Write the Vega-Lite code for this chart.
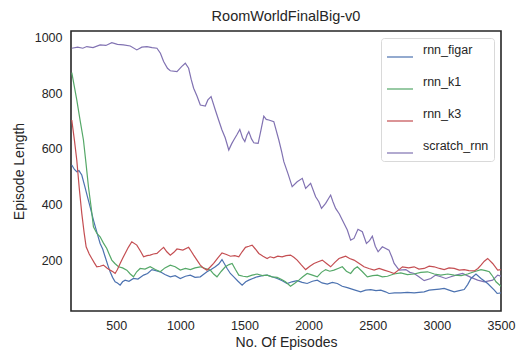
{
  "$schema": "https://vega.github.io/schema/vega-lite/v6.json",
  "width": 430,
  "height": 280,
  "autosize": "none",
  "padding": {"left": 71, "top": 31, "right": 19, "bottom": 40},
  "background": "white",
  "title": {"text": "RoomWorldFinalBig-v0", "font": "Liberation Sans", "fontSize": 14.5, "fontWeight": "normal", "color": "#262626", "offset": 7},
  "config": {
    "view": {"stroke": "#262626", "strokeWidth": 1.6},
    "axis": {"grid": false, "ticks": false, "domain": false, "labelFont": "Liberation Sans", "labelFontSize": 12.5, "labelColor": "#262626", "titleFont": "Liberation Sans", "titleFontSize": 14, "titleFontWeight": "normal", "titleColor": "#262626"}
  },
  "data": {"values": [
    {"s":"scratch_rnn","x":154,"y":962},{"s":"scratch_rnn","x":200,"y":966},{"s":"scratch_rnn","x":240,"y":962},{"s":"scratch_rnn","x":271,"y":968},{"s":"scratch_rnn","x":320,"y":964},{"s":"scratch_rnn","x":375,"y":974},{"s":"scratch_rnn","x":420,"y":972},{"s":"scratch_rnn","x":466,"y":982},{"s":"scratch_rnn","x":510,"y":976},{"s":"scratch_rnn","x":557,"y":974},{"s":"scratch_rnn","x":610,"y":970},{"s":"scratch_rnn","x":661,"y":956},{"s":"scratch_rnn","x":700,"y":966},{"s":"scratch_rnn","x":740,"y":968},{"s":"scratch_rnn","x":780,"y":964},{"s":"scratch_rnn","x":818,"y":962},{"s":"scratch_rnn","x":845,"y":944},{"s":"scratch_rnn","x":870,"y":914},{"s":"scratch_rnn","x":900,"y":890},{"s":"scratch_rnn","x":922,"y":881},{"s":"scratch_rnn","x":974,"y":878},{"s":"scratch_rnn","x":1010,"y":896},{"s":"scratch_rnn","x":1039,"y":908},{"s":"scratch_rnn","x":1065,"y":890},{"s":"scratch_rnn","x":1085,"y":850},{"s":"scratch_rnn","x":1104,"y":818},{"s":"scratch_rnn","x":1130,"y":790},{"s":"scratch_rnn","x":1156,"y":758},{"s":"scratch_rnn","x":1195,"y":754},{"s":"scratch_rnn","x":1215,"y":776},{"s":"scratch_rnn","x":1240,"y":788},{"s":"scratch_rnn","x":1273,"y":740},{"s":"scratch_rnn","x":1300,"y":702},{"s":"scratch_rnn","x":1325,"y":668},{"s":"scratch_rnn","x":1350,"y":640},{"s":"scratch_rnn","x":1378,"y":596},{"s":"scratch_rnn","x":1400,"y":618},{"s":"scratch_rnn","x":1417,"y":632},{"s":"scratch_rnn","x":1440,"y":650},{"s":"scratch_rnn","x":1464,"y":670},{"s":"scratch_rnn","x":1485,"y":640},{"s":"scratch_rnn","x":1503,"y":626},{"s":"scratch_rnn","x":1520,"y":650},{"s":"scratch_rnn","x":1534,"y":662},{"s":"scratch_rnn","x":1555,"y":636},{"s":"scratch_rnn","x":1573,"y":622},{"s":"scratch_rnn","x":1607,"y":620},{"s":"scratch_rnn","x":1630,"y":670},{"s":"scratch_rnn","x":1651,"y":718},{"s":"scratch_rnn","x":1670,"y":706},{"s":"scratch_rnn","x":1690,"y":704},{"s":"scratch_rnn","x":1729,"y":698},{"s":"scratch_rnn","x":1768,"y":632},{"s":"scratch_rnn","x":1790,"y":590},{"s":"scratch_rnn","x":1807,"y":554},{"s":"scratch_rnn","x":1840,"y":510},{"s":"scratch_rnn","x":1872,"y":464},{"s":"scratch_rnn","x":1911,"y":482},{"s":"scratch_rnn","x":1951,"y":494},{"s":"scratch_rnn","x":1977,"y":458},{"s":"scratch_rnn","x":2016,"y":476},{"s":"scratch_rnn","x":2055,"y":428},{"s":"scratch_rnn","x":2080,"y":410},{"s":"scratch_rnn","x":2101,"y":386},{"s":"scratch_rnn","x":2133,"y":404},{"s":"scratch_rnn","x":2172,"y":434},{"s":"scratch_rnn","x":2190,"y":410},{"s":"scratch_rnn","x":2211,"y":386},{"s":"scratch_rnn","x":2240,"y":366},{"s":"scratch_rnn","x":2263,"y":344},{"s":"scratch_rnn","x":2302,"y":308},{"s":"scratch_rnn","x":2328,"y":272},{"s":"scratch_rnn","x":2354,"y":278},{"s":"scratch_rnn","x":2385,"y":311},{"s":"scratch_rnn","x":2419,"y":302},{"s":"scratch_rnn","x":2451,"y":260},{"s":"scratch_rnn","x":2475,"y":270},{"s":"scratch_rnn","x":2497,"y":286},{"s":"scratch_rnn","x":2520,"y":250},{"s":"scratch_rnn","x":2542,"y":230},{"s":"scratch_rnn","x":2575,"y":248},{"s":"scratch_rnn","x":2627,"y":236},{"s":"scratch_rnn","x":2650,"y":210},{"s":"scratch_rnn","x":2667,"y":188},{"s":"scratch_rnn","x":2706,"y":164},{"s":"scratch_rnn","x":2758,"y":166},{"s":"scratch_rnn","x":2790,"y":156},{"s":"scratch_rnn","x":2823,"y":152},{"s":"scratch_rnn","x":2860,"y":140},{"s":"scratch_rnn","x":2901,"y":126},{"s":"scratch_rnn","x":2953,"y":134},{"s":"scratch_rnn","x":2990,"y":146},{"s":"scratch_rnn","x":3031,"y":140},{"s":"scratch_rnn","x":3070,"y":134},{"s":"scratch_rnn","x":3109,"y":140},{"s":"scratch_rnn","x":3150,"y":146},{"s":"scratch_rnn","x":3200,"y":152},{"s":"scratch_rnn","x":3266,"y":138},{"s":"scratch_rnn","x":3318,"y":128},{"s":"scratch_rnn","x":3370,"y":122},{"s":"scratch_rnn","x":3435,"y":128},{"s":"scratch_rnn","x":3474,"y":146},{"s":"scratch_rnn","x":3500,"y":142},

    {"s":"rnn_figar","x":154,"y":542},{"s":"rnn_figar","x":175,"y":526},{"s":"rnn_figar","x":193,"y":518},{"s":"rnn_figar","x":210,"y":522},{"s":"rnn_figar","x":232,"y":506},{"s":"rnn_figar","x":255,"y":466},{"s":"rnn_figar","x":276,"y":428},{"s":"rnn_figar","x":300,"y":386},{"s":"rnn_figar","x":323,"y":344},{"s":"rnn_figar","x":350,"y":300},{"s":"rnn_figar","x":375,"y":260},{"s":"rnn_figar","x":395,"y":240},{"s":"rnn_figar","x":414,"y":212},{"s":"rnn_figar","x":435,"y":182},{"s":"rnn_figar","x":453,"y":158},{"s":"rnn_figar","x":472,"y":138},{"s":"rnn_figar","x":492,"y":122},{"s":"rnn_figar","x":510,"y":118},{"s":"rnn_figar","x":531,"y":110},{"s":"rnn_figar","x":550,"y":122},{"s":"rnn_figar","x":570,"y":128},{"s":"rnn_figar","x":600,"y":124},{"s":"rnn_figar","x":635,"y":134},{"s":"rnn_figar","x":670,"y":132},{"s":"rnn_figar","x":714,"y":146},{"s":"rnn_figar","x":745,"y":152},{"s":"rnn_figar","x":779,"y":166},{"s":"rnn_figar","x":810,"y":162},{"s":"rnn_figar","x":844,"y":158},{"s":"rnn_figar","x":880,"y":148},{"s":"rnn_figar","x":922,"y":140},{"s":"rnn_figar","x":960,"y":144},{"s":"rnn_figar","x":1000,"y":134},{"s":"rnn_figar","x":1040,"y":142},{"s":"rnn_figar","x":1078,"y":146},{"s":"rnn_figar","x":1115,"y":138},{"s":"rnn_figar","x":1156,"y":140},{"s":"rnn_figar","x":1185,"y":150},{"s":"rnn_figar","x":1208,"y":158},{"s":"rnn_figar","x":1240,"y":166},{"s":"rnn_figar","x":1273,"y":176},{"s":"rnn_figar","x":1300,"y":186},{"s":"rnn_figar","x":1325,"y":202},{"s":"rnn_figar","x":1345,"y":186},{"s":"rnn_figar","x":1365,"y":170},{"s":"rnn_figar","x":1390,"y":152},{"s":"rnn_figar","x":1417,"y":140},{"s":"rnn_figar","x":1450,"y":124},{"s":"rnn_figar","x":1482,"y":110},{"s":"rnn_figar","x":1510,"y":122},{"s":"rnn_figar","x":1534,"y":128},{"s":"rnn_figar","x":1565,"y":134},{"s":"rnn_figar","x":1599,"y":140},{"s":"rnn_figar","x":1640,"y":144},{"s":"rnn_figar","x":1677,"y":146},{"s":"rnn_figar","x":1715,"y":140},{"s":"rnn_figar","x":1755,"y":134},{"s":"rnn_figar","x":1795,"y":126},{"s":"rnn_figar","x":1833,"y":116},{"s":"rnn_figar","x":1870,"y":122},{"s":"rnn_figar","x":1911,"y":126},{"s":"rnn_figar","x":1950,"y":120},{"s":"rnn_figar","x":1989,"y":116},{"s":"rnn_figar","x":2030,"y":124},{"s":"rnn_figar","x":2068,"y":128},{"s":"rnn_figar","x":2105,"y":118},{"s":"rnn_figar","x":2146,"y":114},{"s":"rnn_figar","x":2185,"y":120},{"s":"rnn_figar","x":2224,"y":116},{"s":"rnn_figar","x":2262,"y":106},{"s":"rnn_figar","x":2302,"y":101},{"s":"rnn_figar","x":2350,"y":94},{"s":"rnn_figar","x":2406,"y":86},{"s":"rnn_figar","x":2445,"y":92},{"s":"rnn_figar","x":2485,"y":94},{"s":"rnn_figar","x":2525,"y":90},{"s":"rnn_figar","x":2563,"y":92},{"s":"rnn_figar","x":2600,"y":86},{"s":"rnn_figar","x":2627,"y":80},{"s":"rnn_figar","x":2670,"y":82},{"s":"rnn_figar","x":2719,"y":82},{"s":"rnn_figar","x":2770,"y":84},{"s":"rnn_figar","x":2823,"y":82},{"s":"rnn_figar","x":2860,"y":84},{"s":"rnn_figar","x":2901,"y":86},{"s":"rnn_figar","x":2940,"y":92},{"s":"rnn_figar","x":2979,"y":94},{"s":"rnn_figar","x":3020,"y":96},{"s":"rnn_figar","x":3057,"y":98},{"s":"rnn_figar","x":3095,"y":92},{"s":"rnn_figar","x":3135,"y":86},{"s":"rnn_figar","x":3175,"y":90},{"s":"rnn_figar","x":3213,"y":94},{"s":"rnn_figar","x":3240,"y":112},{"s":"rnn_figar","x":3266,"y":134},{"s":"rnn_figar","x":3305,"y":150},{"s":"rnn_figar","x":3344,"y":134},{"s":"rnn_figar","x":3396,"y":116},{"s":"rnn_figar","x":3448,"y":92},{"s":"rnn_figar","x":3470,"y":80},{"s":"rnn_figar","x":3500,"y":82},

    {"s":"rnn_k1","x":154,"y":874},{"s":"rnn_k1","x":193,"y":776},{"s":"rnn_k1","x":220,"y":700},{"s":"rnn_k1","x":245,"y":632},{"s":"rnn_k1","x":265,"y":548},{"s":"rnn_k1","x":284,"y":464},{"s":"rnn_k1","x":305,"y":390},{"s":"rnn_k1","x":323,"y":320},{"s":"rnn_k1","x":350,"y":296},{"s":"rnn_k1","x":375,"y":284},{"s":"rnn_k1","x":400,"y":262},{"s":"rnn_k1","x":427,"y":242},{"s":"rnn_k1","x":445,"y":222},{"s":"rnn_k1","x":466,"y":200},{"s":"rnn_k1","x":490,"y":188},{"s":"rnn_k1","x":518,"y":176},{"s":"rnn_k1","x":550,"y":172},{"s":"rnn_k1","x":583,"y":164},{"s":"rnn_k1","x":610,"y":150},{"s":"rnn_k1","x":635,"y":140},{"s":"rnn_k1","x":660,"y":158},{"s":"rnn_k1","x":687,"y":170},{"s":"rnn_k1","x":725,"y":168},{"s":"rnn_k1","x":765,"y":176},{"s":"rnn_k1","x":805,"y":166},{"s":"rnn_k1","x":844,"y":158},{"s":"rnn_k1","x":880,"y":172},{"s":"rnn_k1","x":922,"y":182},{"s":"rnn_k1","x":960,"y":176},{"s":"rnn_k1","x":1000,"y":164},{"s":"rnn_k1","x":1040,"y":170},{"s":"rnn_k1","x":1078,"y":166},{"s":"rnn_k1","x":1115,"y":172},{"s":"rnn_k1","x":1156,"y":176},{"s":"rnn_k1","x":1195,"y":170},{"s":"rnn_k1","x":1234,"y":164},{"s":"rnn_k1","x":1260,"y":150},{"s":"rnn_k1","x":1286,"y":140},{"s":"rnn_k1","x":1320,"y":160},{"s":"rnn_k1","x":1351,"y":176},{"s":"rnn_k1","x":1380,"y":184},{"s":"rnn_k1","x":1404,"y":188},{"s":"rnn_k1","x":1430,"y":166},{"s":"rnn_k1","x":1456,"y":146},{"s":"rnn_k1","x":1490,"y":142},{"s":"rnn_k1","x":1521,"y":140},{"s":"rnn_k1","x":1560,"y":146},{"s":"rnn_k1","x":1599,"y":150},{"s":"rnn_k1","x":1640,"y":144},{"s":"rnn_k1","x":1677,"y":146},{"s":"rnn_k1","x":1715,"y":140},{"s":"rnn_k1","x":1755,"y":138},{"s":"rnn_k1","x":1790,"y":130},{"s":"rnn_k1","x":1820,"y":122},{"s":"rnn_k1","x":1859,"y":106},{"s":"rnn_k1","x":1890,"y":116},{"s":"rnn_k1","x":1924,"y":128},{"s":"rnn_k1","x":1955,"y":140},{"s":"rnn_k1","x":1989,"y":152},{"s":"rnn_k1","x":2030,"y":146},{"s":"rnn_k1","x":2068,"y":140},{"s":"rnn_k1","x":2100,"y":156},{"s":"rnn_k1","x":2133,"y":166},{"s":"rnn_k1","x":2165,"y":160},{"s":"rnn_k1","x":2198,"y":164},{"s":"rnn_k1","x":2230,"y":170},{"s":"rnn_k1","x":2263,"y":176},{"s":"rnn_k1","x":2295,"y":160},{"s":"rnn_k1","x":2328,"y":152},{"s":"rnn_k1","x":2355,"y":168},{"s":"rnn_k1","x":2380,"y":176},{"s":"rnn_k1","x":2420,"y":158},{"s":"rnn_k1","x":2458,"y":140},{"s":"rnn_k1","x":2500,"y":144},{"s":"rnn_k1","x":2537,"y":146},{"s":"rnn_k1","x":2575,"y":140},{"s":"rnn_k1","x":2615,"y":142},{"s":"rnn_k1","x":2665,"y":150},{"s":"rnn_k1","x":2719,"y":154},{"s":"rnn_k1","x":2770,"y":148},{"s":"rnn_k1","x":2823,"y":150},{"s":"rnn_k1","x":2875,"y":156},{"s":"rnn_k1","x":2927,"y":158},{"s":"rnn_k1","x":2980,"y":150},{"s":"rnn_k1","x":3031,"y":146},{"s":"rnn_k1","x":3085,"y":150},{"s":"rnn_k1","x":3135,"y":146},{"s":"rnn_k1","x":3190,"y":144},{"s":"rnn_k1","x":3240,"y":150},{"s":"rnn_k1","x":3290,"y":158},{"s":"rnn_k1","x":3344,"y":166},{"s":"rnn_k1","x":3380,"y":162},{"s":"rnn_k1","x":3409,"y":158},{"s":"rnn_k1","x":3435,"y":142},{"s":"rnn_k1","x":3461,"y":122},{"s":"rnn_k1","x":3500,"y":106},

    {"s":"rnn_k3","x":154,"y":704},{"s":"rnn_k3","x":175,"y":630},{"s":"rnn_k3","x":193,"y":560},{"s":"rnn_k3","x":212,"y":460},{"s":"rnn_k3","x":232,"y":368},{"s":"rnn_k3","x":250,"y":300},{"s":"rnn_k3","x":266,"y":248},{"s":"rnn_k3","x":290,"y":222},{"s":"rnn_k3","x":310,"y":206},{"s":"rnn_k3","x":330,"y":190},{"s":"rnn_k3","x":349,"y":176},{"s":"rnn_k3","x":375,"y":178},{"s":"rnn_k3","x":401,"y":182},{"s":"rnn_k3","x":428,"y":172},{"s":"rnn_k3","x":453,"y":164},{"s":"rnn_k3","x":475,"y":158},{"s":"rnn_k3","x":492,"y":152},{"s":"rnn_k3","x":510,"y":166},{"s":"rnn_k3","x":531,"y":188},{"s":"rnn_k3","x":550,"y":206},{"s":"rnn_k3","x":570,"y":224},{"s":"rnn_k3","x":595,"y":246},{"s":"rnn_k3","x":622,"y":266},{"s":"rnn_k3","x":661,"y":254},{"s":"rnn_k3","x":690,"y":232},{"s":"rnn_k3","x":714,"y":212},{"s":"rnn_k3","x":740,"y":216},{"s":"rnn_k3","x":765,"y":218},{"s":"rnn_k3","x":790,"y":222},{"s":"rnn_k3","x":818,"y":224},{"s":"rnn_k3","x":845,"y":236},{"s":"rnn_k3","x":870,"y":246},{"s":"rnn_k3","x":895,"y":230},{"s":"rnn_k3","x":922,"y":218},{"s":"rnn_k3","x":950,"y":228},{"s":"rnn_k3","x":974,"y":240},{"s":"rnn_k3","x":1020,"y":236},{"s":"rnn_k3","x":1065,"y":246},{"s":"rnn_k3","x":1085,"y":232},{"s":"rnn_k3","x":1104,"y":218},{"s":"rnn_k3","x":1130,"y":200},{"s":"rnn_k3","x":1156,"y":182},{"s":"rnn_k3","x":1180,"y":172},{"s":"rnn_k3","x":1208,"y":164},{"s":"rnn_k3","x":1235,"y":176},{"s":"rnn_k3","x":1260,"y":188},{"s":"rnn_k3","x":1290,"y":206},{"s":"rnn_k3","x":1325,"y":226},{"s":"rnn_k3","x":1360,"y":220},{"s":"rnn_k3","x":1391,"y":214},{"s":"rnn_k3","x":1425,"y":216},{"s":"rnn_k3","x":1456,"y":212},{"s":"rnn_k3","x":1482,"y":230},{"s":"rnn_k3","x":1508,"y":246},{"s":"rnn_k3","x":1535,"y":250},{"s":"rnn_k3","x":1560,"y":254},{"s":"rnn_k3","x":1585,"y":240},{"s":"rnn_k3","x":1612,"y":224},{"s":"rnn_k3","x":1645,"y":214},{"s":"rnn_k3","x":1677,"y":206},{"s":"rnn_k3","x":1700,"y":212},{"s":"rnn_k3","x":1729,"y":208},{"s":"rnn_k3","x":1760,"y":214},{"s":"rnn_k3","x":1794,"y":212},{"s":"rnn_k3","x":1825,"y":216},{"s":"rnn_k3","x":1859,"y":218},{"s":"rnn_k3","x":1885,"y":210},{"s":"rnn_k3","x":1911,"y":200},{"s":"rnn_k3","x":1945,"y":182},{"s":"rnn_k3","x":1977,"y":166},{"s":"rnn_k3","x":2010,"y":178},{"s":"rnn_k3","x":2042,"y":188},{"s":"rnn_k3","x":2075,"y":194},{"s":"rnn_k3","x":2107,"y":200},{"s":"rnn_k3","x":2140,"y":188},{"s":"rnn_k3","x":2172,"y":176},{"s":"rnn_k3","x":2205,"y":192},{"s":"rnn_k3","x":2237,"y":206},{"s":"rnn_k3","x":2262,"y":210},{"s":"rnn_k3","x":2289,"y":214},{"s":"rnn_k3","x":2320,"y":206},{"s":"rnn_k3","x":2354,"y":200},{"s":"rnn_k3","x":2395,"y":188},{"s":"rnn_k3","x":2432,"y":176},{"s":"rnn_k3","x":2470,"y":170},{"s":"rnn_k3","x":2511,"y":164},{"s":"rnn_k3","x":2550,"y":170},{"s":"rnn_k3","x":2589,"y":164},{"s":"rnn_k3","x":2630,"y":158},{"s":"rnn_k3","x":2667,"y":152},{"s":"rnn_k3","x":2700,"y":164},{"s":"rnn_k3","x":2732,"y":176},{"s":"rnn_k3","x":2780,"y":172},{"s":"rnn_k3","x":2823,"y":176},{"s":"rnn_k3","x":2860,"y":168},{"s":"rnn_k3","x":2901,"y":170},{"s":"rnn_k3","x":2940,"y":178},{"s":"rnn_k3","x":2979,"y":176},{"s":"rnn_k3","x":3020,"y":170},{"s":"rnn_k3","x":3057,"y":166},{"s":"rnn_k3","x":3095,"y":172},{"s":"rnn_k3","x":3135,"y":170},{"s":"rnn_k3","x":3175,"y":164},{"s":"rnn_k3","x":3213,"y":166},{"s":"rnn_k3","x":3250,"y":162},{"s":"rnn_k3","x":3292,"y":161},{"s":"rnn_k3","x":3320,"y":170},{"s":"rnn_k3","x":3344,"y":182},{"s":"rnn_k3","x":3370,"y":196},{"s":"rnn_k3","x":3396,"y":206},{"s":"rnn_k3","x":3435,"y":188},{"s":"rnn_k3","x":3474,"y":164},{"s":"rnn_k3","x":3500,"y":166}
  ]},
  "mark": {"type": "line", "strokeWidth": 1.2, "clip": true},
  "encoding": {
    "x": {"field": "x", "type": "quantitative", "title": "No. Of Episodes", "scale": {"domain": [148, 3500], "nice": false, "zero": false}, "axis": {"values": [500, 1000, 1500, 2000, 2500, 3000, 3500], "format": "d", "labelPadding": 8, "titlePadding": 4, "labelFlush": false}},
    "y": {"field": "y", "type": "quantitative", "title": "Episode Length", "scale": {"domain": [17, 1024], "nice": false, "zero": false}, "axis": {"values": [200, 400, 600, 800, 1000], "format": "d", "labelPadding": 9, "titlePadding": 8}},
    "color": {"field": "s", "type": "nominal", "title": null,
      "scale": {"domain": ["rnn_figar", "rnn_k1", "rnn_k3", "scratch_rnn"], "range": ["#4C72B0", "#55A868", "#C44E52", "#8172B2"]},
      "legend": {"orient": "top-right", "offset": 7, "symbolType": "stroke", "symbolSize": 676, "symbolStrokeWidth": 1.5, "symbolOpacity": 0.8, "labelFont": "Liberation Sans", "labelFontSize": 12.5, "labelColor": "#262626", "labelOffset": 9, "rowPadding": 15, "padding": 5, "strokeColor": "#D9D9D9", "fillColor": "white", "cornerRadius": 3, "labelBaseline": "bottom"}
    },
    "order": {"field": "x", "type": "quantitative"}
  }
}
